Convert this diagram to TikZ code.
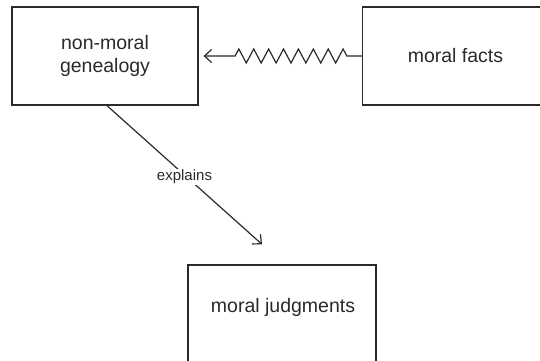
\documentclass[tikz,border=0pt]{standalone}
\usepackage{fontspec}
\setmainfont{Liberation Sans}
\usetikzlibrary{arrows.meta,decorations.pathmorphing,calc}
\definecolor{ink}{HTML}{2A2A2A}
\begin{document}
\begin{tikzpicture}[x=1pt,y=-1pt,
  box/.style={draw=ink, line width=1.3pt, rectangle, minimum width=186pt, minimum height=98pt, align=center, font=\fontsize{19.5}{23}\selectfont, text=ink},
  conn/.style={draw=ink, line width=1.2pt, -{Straight Barb[length=7pt,width=13pt,line width=1.2pt]}},
  lab/.style={fill=white, inner sep=1.5pt, font=\fontsize{15}{18}\selectfont, text=ink}]
\useasboundingbox (0,0) rectangle (540,360);
\begin{scope}
\clip (0,0) rectangle (540,360);
\node[box] (gen) at (105,56) {non-moral\\genealogy};
\node[box, minimum width=186pt] (facts) at (455.5,56) {moral facts};
\node[box, minimum width=188pt, minimum height=100pt] (judg) at (282,315) {};
\node[font=\fontsize{19.5}{23}\selectfont, text=ink] (judgtext) at (283,307) {moral judgments};
\draw[conn, decorate, decoration={zigzag, segment length=14.9pt, amplitude=7pt, pre length=15pt, post length=25pt, mirror}]
  (facts.west) -- ([xshift=5pt]gen.east);
\draw[conn] ([xshift=2pt]gen.south) -- node[lab, yshift=-2pt] {explains} ([xshift=-20pt,yshift=20pt]judg.north);
\end{scope}
\end{tikzpicture}
\end{document}
